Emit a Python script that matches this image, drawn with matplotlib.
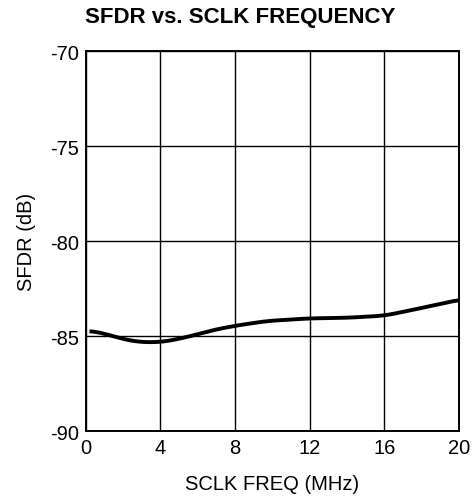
import numpy as np
import matplotlib.pyplot as plt

plt.rcParams['font.family'] = ['Liberation Sans', 'DejaVu Sans']
plt.rcParams['axes.unicode_minus'] = False

freq_mhz = [0.2, 0.8, 1.5, 2.7, 4.0, 5.2, 6.8, 8.0, 9.7, 12.0, 14.0, 16.0, 17.5, 20.0]
sfdr_db = [-84.72, -84.8, -85.02, -85.3, -85.32, -85.1, -84.68, -84.45, -84.2, -84.06, -84.03, -83.92, -83.62, -83.08]

xticks = [0, 4, 8, 12, 16, 20]
yticks = [-90, -85, -80, -75, -70]


def main():
    fig = plt.figure(figsize=(4.74, 5.02), dpi=100)
    ax = fig.add_axes([0.181, 0.139, 0.787, 0.757])

    # smooth the hand-read points a bit
    xs = np.linspace(freq_mhz[0], freq_mhz[-1], 300)
    ys = np.interp(xs, freq_mhz, sfdr_db)
    k = 9
    ys_s = np.convolve(np.pad(ys, k, mode='edge'), np.ones(2 * k + 1) / (2 * k + 1), mode='same')[k:-k]
    ax.plot(xs, ys_s, color='black', lw=2.8, solid_capstyle='butt')

    ax.set_xlim(0, 20)
    ax.set_ylim(-90, -70)
    ax.set_xticks(xticks)
    ax.set_yticks(yticks)
    ax.grid(True, color='black', lw=1.0)
    ax.tick_params(length=0, labelsize=14.5, pad=5)
    for s in ax.spines.values():
        s.set_linewidth(1.4)

    ax.set_xlabel('SCLK FREQ (MHz)', fontsize=14.5, labelpad=12)
    ax.set_ylabel('SFDR (dB)', fontsize=14.5, labelpad=10)
    # title sits left of the axes centre in the original
    fig.text(0.506, 0.966, 'SFDR vs. SCLK FREQUENCY', fontsize=16, fontweight='bold',
             ha='center', va='center')

    fig.savefig('out.png', dpi=100)


if __name__ == "__main__":
    main()
